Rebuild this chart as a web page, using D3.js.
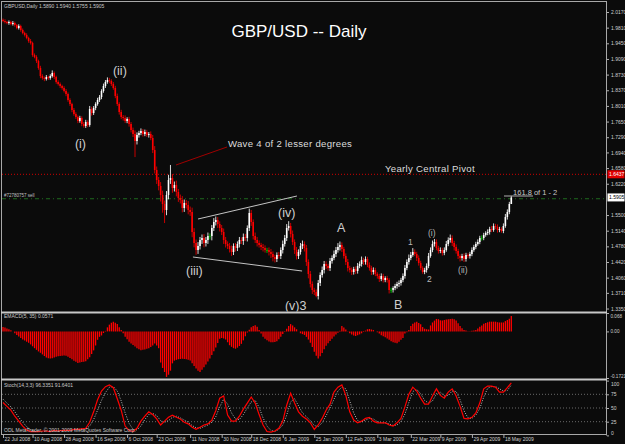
<!DOCTYPE html>
<html><head><meta charset="utf-8">
<script src="https://cdn.jsdelivr.net/npm/d3@7"></script>
<style>body{margin:0;background:#0b0b0b}svg{display:block}</style>
</head><body><svg id="c" width="625" height="444"></svg>
<script>
// ---------------- DATA ----------------
const firstOpen = 1.9990;
const closes = [
1.9963,1.9940,1.9917,1.9940,1.9894,1.9917,1.9871,1.9802,1.9848,1.9756,
1.9687,1.9641,1.9572,1.9503,1.9457,1.9181,1.9135,1.9043,1.8882,1.8698,
1.8652,1.8629,1.8675,1.8652,1.8698,1.8767,1.8675,1.8560,1.8514,1.8468,
1.8422,1.8353,1.8284,1.8146,1.8054,1.7916,1.7824,1.7755,1.7663,1.7732,
1.7594,1.7548,1.7640,1.7571,1.7939,1.7847,1.7962,1.8054,1.8146,1.8215,
1.8353,1.8468,1.8560,1.8606,1.8583,1.8514,1.8422,1.8238,1.8054,1.7870,
1.7755,1.7732,1.7663,1.7709,1.7594,1.7456,1.7364,1.7203,1.7341,1.7387,
1.7433,1.7364,1.7410,1.7341,1.7364,1.7272,1.6996,1.6536,1.6306,1.6168,
1.5961,1.5754,1.5616,1.5961,1.6306,1.6352,1.6122,1.6191,1.6030,1.5892,
1.5846,1.5662,1.5777,1.5731,1.5616,1.5570,1.5110,1.4857,1.4696,1.4788,
1.4926,1.4972,1.4857,1.4926,1.5018,1.5018,1.5202,1.5340,1.5386,1.5294,
1.5202,1.5110,1.4926,1.4834,1.4788,1.4719,1.4650,1.4788,1.4742,1.4834,
1.4926,1.4903,1.4995,1.4972,1.5202,1.5547,1.5340,1.5018,1.4926,1.4857,
1.4811,1.4765,1.4742,1.4696,1.4696,1.4650,1.4604,1.4535,1.4489,1.4581,
1.4558,1.4696,1.4834,1.4972,1.5202,1.5248,1.5064,1.4880,1.4696,1.4558,
1.4650,1.4788,1.4834,1.4742,1.4420,1.4144,1.3914,1.3776,1.3730,1.3638,
1.3937,1.4121,1.4236,1.4374,1.4328,1.4282,1.4443,1.4512,1.4604,1.4696,
1.4765,1.4811,1.4719,1.4558,1.4420,1.4282,1.4236,1.4190,1.4259,1.4213,
1.4328,1.4374,1.4466,1.4420,1.4489,1.4351,1.4282,1.4190,1.4236,1.4144,
1.4098,1.4029,1.4098,1.4006,1.4052,1.4006,1.3776,1.3778,1.3822,1.3868,
1.3914,1.3937,1.4006,1.4098,1.4282,1.4420,1.4512,1.4581,1.4650,1.4604,
1.4512,1.4397,1.4282,1.4190,1.4236,1.4328,1.4558,1.4696,1.4834,1.4880,
1.4742,1.4673,1.4696,1.4627,1.4696,1.4834,1.4926,1.4972,1.4857,1.4765,
1.4673,1.4558,1.4512,1.4558,1.4489,1.4581,1.4558,1.4604,1.4696,1.4765,
1.4834,1.4880,1.4972,1.4972,1.5041,1.5087,1.5110,1.5179,1.5156,1.5248,
1.5225,1.5156,1.5179,1.5133,1.5248,1.5455,1.5570,1.5754,1.5905];
// upper / lower wick lengths in pips
const hiWick = [
30,40,25,35,30,45,30,25,40,30,35,30,40,30,45,30,35,40,30,50,
40,35,45,30,40,60,35,30,40,35,30,40,45,35,40,30,45,40,35,50,
40,45,50,40,70,50,45,40,50,45,40,55,45,60,50,40,45,50,55,40,
50,45,60,40,50,45,55,80,60,50,60,45,55,50,45,60,70,90,80,70,
90,100,80,90,120,300,90,80,100,70,80,90,80,70,90,80,100,90,80,90,
70,80,90,70,80,60,70,90,80,70,60,70,80,70,60,70,80,60,70,60,
70,60,80,70,60,100,70,60,80,70,60,50,70,60,50,60,70,60,50,60,
70,60,80,70,90,110,70,80,60,70,60,70,80,60,70,60,70,60,50,60,
70,60,80,70,60,50,70,60,80,70,90,80,60,50,60,70,50,60,50,60,
70,60,80,50,60,50,60,50,60,50,40,50,60,50,40,50,40,50,40,50,
50,60,50,60,70,60,80,70,90,60,50,60,50,40,50,60,70,60,80,70,
60,50,60,50,60,70,60,80,60,50,60,50,40,50,60,50,40,50,60,50,
50,60,50,60,50,40,60,50,70,60,50,60,50,40,60,70,60,50,35];
const loWick = [
30,35,30,40,30,35,40,30,35,40,30,35,30,40,35,40,30,45,40,50,
40,50,35,45,40,35,50,40,35,45,40,35,50,40,45,50,40,45,50,40,
50,40,45,50,40,60,45,50,40,45,50,40,45,40,50,45,40,50,45,60,
50,60,45,50,60,55,70,370,80,60,50,60,50,45,60,50,70,80,90,100,
150,200,300,120,100,90,110,80,100,90,80,100,90,80,100,90,120,100,110,90,
80,90,100,80,90,80,100,70,80,90,80,70,90,80,70,80,90,70,80,70,
80,70,90,70,80,70,90,80,70,80,60,70,80,60,70,80,90,100,80,70,
60,70,80,60,70,60,80,70,90,80,70,60,70,80,90,100,80,90,70,30,
80,70,60,80,70,60,70,60,50,70,60,80,70,60,70,80,60,70,60,70,
60,50,60,70,60,50,60,70,60,50,60,70,50,60,50,60,80,70,60,50,
60,70,60,50,60,50,60,50,40,50,70,60,50,40,50,60,50,40,50,60,
50,60,50,60,50,40,50,60,70,80,60,70,80,60,70,60,50,60,50,40,
50,40,50,60,50,40,50,60,50,40,50,60,50,40,50,40,60,50,0];
// MACD histogram, thousandths
const macdMilli = [
16,14,11,8,4,0,-7,-13,-19,-24,-30,-34,-38,-42,-48,-55,-62,-68,-74,-79,
-85,-91,-96,-99,-100,-99,-96,-94,-92,-91,-90,-89,-90,-94,-98,-103,-108,-112,-117,-115,
-113,-112,-110,-103,-95,-83,-70,-52,-31,-20,-15,-6,2,15,25,32,36,32,27,15,
5,-7,-20,-29,-38,-45,-50,-56,-62,-66,-70,-68,-67,-64,-62,-58,-52,-45,-52,-62,
-115,-135,-150,-168,-160,-145,-118,-108,-105,-103,-102,-101,-102,-103,-105,-107,-118,-128,-137,-145,
-150,-142,-132,-122,-111,-100,-87,-73,-59,-43,-27,-24,-26,-30,-40,-51,-57,-62,-64,-60,
-54,-46,-33,-18,-4,6,15,20,23,17,5,-8,-20,-27,-33,-37,-40,-40,-39,-36,
-29,-20,-10,-2,10,20,27,22,15,8,0,-7,-10,-13,-20,-30,-42,-58,-75,-90,
-100,-92,-80,-66,-53,-44,-35,-27,-19,-11,-5,2,20,14,7,-1,-7,-11,-15,-17,
-14,-11,-7,-2,3,8,9,7,5,0,-3,-8,-14,-18,-22,-26,-31,-36,-40,-42,
-44,-38,-31,-24,-8,-3,5,20,28,33,36,31,26,16,10,8,7,22,33,40,
46,45,41,40,42,44,45,46,47,45,40,30,20,12,5,3,1,1,2,3,
5,11,17,22,28,31,34,36,36,36,36,34,33,33,33,38,42,47,57];
// Stochastic, sampled every 2 bars
const stochMain = [
60,53,46,35,26,17,10,7,7,7, 8,8,7,9,8,9,9,9,11,11,
12,13,24,43,65,81,89,92,87,67, 46,17,9,7,13,26,35,43,38,30,
19,26,33,37,33,30,24,21,15,11, 15,19,21,28,45,68,72,37,26,26,
35,48,59,70,59,38,19,7,6,8, 13,26,55,77,59,43,35,30,23,11,
19,31,46,57,79,88,92,73,43,28, 23,26,31,33,26,23,23,23,19,17,
23,31,52,75,88,81,68,57,57,72, 85,73,68,79,85,72,53,31,30,33,
41,59,85,90,90,88,79,79,87,96];
const stochSignal = [
66,59,52,43,33,24,16,10,8,7, 7,8,8,8,8,8,9,9,10,11,
11,12,17,29,46,64,78,88,89,81, 63,41,22,11,10,17,29,38,40,36,
27,24,27,33,35,32,28,24,18,14, 13,16,19,24,34,52,66,57,41,30,
29,38,50,61,64,51,32,17,9,7, 11,19,37,61,67,54,41,34,27,18,
16,23,36,50,66,81,88,85,63,41, 27,24,28,31,30,25,23,23,21,18,
19,25,39,60,80,84,76,64,59,63, 76,79,72,73,81,80,65,45,32,31,
37,49,70,86,89,89,85,81,82,92];
// 1.5860 is covered by the current-price tag in the reference
const priceTicks = [2.0170,1.9810,1.9450,1.9090,1.8730,1.8370,1.8010,1.7650,1.7290,1.6940,
  1.6580,1.6220,1.5500,1.5140,1.4780,1.4420,1.4060,1.3710,1.3350];
const macdTicks = [0.068, 0, -0.1721];
const macdTickLabels = ["0.068","0.00","-0.1721"];
const stochTicks = [100,75,50,25,0];
const stochLevels = [75,50,25];
const dateLabels = ["22 Jul 2008","10 Aug 2008","28 Aug 2008","16 Sep 2008","6 Oct 2008","23 Oct 2008",
  "11 Nov 2008","30 Nov 2008","18 Dec 2008","6 Jan 2009","25 Jan 2009","12 Feb 2009","3 Mar 2009",
  "22 Mar 2009","9 Apr 2009","29 Apr 2009","18 May 2009"];
const dateBars = [0,15,31,47,63,78,95,111,126,142,158,174,190,207,222,238,254];
const pivotPrice = 1.6437;
const targetPrice = 1.5875;
const lastPrice = 1.5905;
// annotations: [text, bar index, price, size class]
const waveLabels = [
  ["(ii)",55.8,1.8721,"big"],["(i)",36.5,1.7042,"big"],["(iii)",92.9,1.4121,"big"],
  ["(iv)",139.6,1.5455,"big"],["A",169.5,1.5110,"big"],["(v)3",143.1,1.3316,"big"],
  ["B",198.5,1.3339,"big"],["1",205.6,1.4811,"small"],["2",215.2,1.3960,"small"],
  ["(i)",215.7,1.5018,"small"],["(ii)",231,1.4167,"small"],
  ["Wave 4 of 2 lesser degrees",114.2,1.7065,"note"],["Yearly Central Pivot",193.9,1.6501,"note"],
  ["161.8 of 1 - 2",258.9,1.5972,"tiny"]];
// trend lines: [bar1, price1, bar2, price2, colour]
const trendLines = [
  [99,1.5409,149.2,1.5938,"#c4c4c4"],
  [96.4,1.4535,151.8,1.4213,"#c4c4c4"],
  [87.8,1.6651,113.7,1.7065,"#a00000"],
  [254.3,1.5938,269,1.5938,"#b0b0b0"]];

// ---------------- DRAW ----------------
const FONT = "'Liberation Sans', Arial, sans-serif";
const svg = d3.select('#c');
svg.append('rect').attr('width',625).attr('height',444).attr('fill','#0b0b0b');

const x = d3.scaleLinear().domain([0, closes.length-1]).range([3, 511.3]);
const yP = d3.scaleLinear().domain([1.327, 2.040]).range([312, 2]);
const yM = d3.scaleLinear().domain([-0.1721, 0.068]).range([378, 313]);
const yS = d3.scaleLinear().domain([0,100]).range([435.4, 380.6]);

const defs = svg.append('defs');
defs.append('clipPath').attr('id','mainClip').append('rect').attr('x',2).attr('y',2).attr('width',604).attr('height',309.5);

// frame
const frame = svg.append('g').attr('stroke','#a8a8a8').attr('fill','none');
frame.append('line').attr('x1',1).attr('x2',607).attr('y1',1.5).attr('y2',1.5);
frame.append('line').attr('x1',1.5).attr('x2',1.5).attr('y1',1).attr('y2',435);
frame.append('line').attr('x1',606.5).attr('x2',606.5).attr('y1',1).attr('y2',435.5);
frame.append('line').attr('x1',1).attr('x2',607).attr('y1',434.5).attr('y2',434.5);
frame.append('line').attr('x1',1).attr('x2',607).attr('y1',312.5).attr('y2',312.5).attr('stroke','#c8c8c8').attr('stroke-width',2);
frame.append('line').attr('x1',1).attr('x2',607).attr('y1',379.5).attr('y2',379.5).attr('stroke','#c8c8c8').attr('stroke-width',2);

const main = svg.append('g').attr('clip-path','url(#mainClip)');

// horizontal levels
main.append('line').attr('x1',2).attr('x2',606).attr('y1',yP(pivotPrice)).attr('y2',yP(pivotPrice))
  .attr('stroke','#d00000').attr('stroke-dasharray','1,2');
main.append('line').attr('x1',2).attr('x2',606).attr('y1',yP(targetPrice)).attr('y2',yP(targetPrice))
  .attr('stroke','#1f6a1f').attr('stroke-dasharray','4,3,1,3');

// candles
const bars = closes.map((c,i)=>{
  const o = i ? closes[i-1] : firstOpen;
  return {i,o,c,h:Math.max(o,c)+hiWick[i]/1e4,l:Math.min(o,c)-loWick[i]/1e4};
});
function col(b, wick){
  if (Math.abs(b.c-b.o) < 0.0005) return '#00b000';
  if (b.c >= b.o) return wick ? '#d8d8d8' : '#ffffff';
  return wick ? '#c80000' : '#ff0000';
}
main.append('g').selectAll('line').data(bars).join('line')
  .attr('x1',d=>x(d.i)).attr('x2',d=>x(d.i)).attr('y1',d=>yP(d.h)).attr('y2',d=>yP(d.l))
  .attr('stroke',d=>col(d,true)).attr('stroke-width',1);
main.append('g').selectAll('rect').data(bars).join('rect')
  .attr('x',d=>x(d.i)-0.8).attr('width',1.6)
  .attr('y',d=>yP(Math.max(d.o,d.c)))
  .attr('height',d=>Math.max(1, yP(Math.min(d.o,d.c))-yP(Math.max(d.o,d.c))))
  .attr('fill',d=>col(d,false));

// trend lines
main.append('g').selectAll('line').data(trendLines).join('line')
  .attr('x1',d=>x(d[0])).attr('y1',d=>yP(d[1])).attr('x2',d=>x(d[2])).attr('y2',d=>yP(d[3]))
  .attr('stroke',d=>d[4]).attr('stroke-width',1);

// wave labels
const sizes = {big:[12.5,'#cfcfcf'], small:[8.5,'#b8b8b8'], note:[9.6,'#dcdcdc'], tiny:[7.5,'#c8c8c8']};
main.append('g').selectAll('text').data(waveLabels).join('text')
  .attr('x',d=>x(d[1])).attr('y',d=>yP(d[2]))
  .attr('font-family',FONT).attr('font-size',d=>sizes[d[3]][0]).attr('fill',d=>sizes[d[3]][1])
  .attr('letter-spacing',d=>d[3]==='note'?0.3:0)
  .text(d=>d[0]);

// title
svg.append('text').attr('x',299).attr('y',36.5).attr('text-anchor','middle')
  .attr('font-family',FONT).attr('font-size',17).attr('fill','#ffffff').text('GBP/USD -- Daily');
svg.append('text').attr('x',4).attr('y',7.5).attr('font-family',FONT).attr('font-size',5).attr('fill','#c8c8c8')
  .text('GBPUSD,Daily  1.5890 1.5940 1.5755 1.5905');
svg.append('text').attr('x',4).attr('y',yP(targetPrice)-1.5).attr('font-family',FONT).attr('font-size',4.5).attr('fill','#c0c0c0')
  .text('#72780757 sell');

// price axis
const axP = d3.axisRight(yP).tickValues(priceTicks).tickSize(2).tickPadding(2).tickFormat(d3.format('.4f'));
const gP = svg.append('g').attr('transform','translate(607,0)').call(axP);
function styleAxis(g, fs){
  g.select('.domain').remove();
  g.selectAll('line').attr('stroke','#b0b0b0');
  g.selectAll('text').attr('fill','#d0d0d0').attr('font-size',fs||5).attr('font-family',FONT);
}
styleAxis(gP);

// price tags
function tag(p, bg, fg){
  const g = svg.append('g');
  g.append('rect').attr('x',607.5).attr('y',yP(p)-4).attr('width',17).attr('height',8).attr('fill',bg);
  g.append('text').attr('x',609).attr('y',yP(p)+1.8).attr('font-family',FONT).attr('font-size',5).attr('fill',fg)
    .text(d3.format('.4f')(p));
}
tag(pivotPrice,'#e00000','#ffffff');
tag(lastPrice,'#ffffff','#000000');

// MACD histogram
svg.append('g').selectAll('line').data(macdMilli).join('line')
  .attr('x1',(d,i)=>x(i)).attr('x2',(d,i)=>x(i)).attr('y1',yM(0)).attr('y2',d=>yM(d/1000))
  .attr('stroke','#ff0000').attr('stroke-width',1.3);
const axM = d3.axisRight(yM).tickValues(macdTicks).tickSize(2).tickPadding(1.5).tickFormat((d,i)=>macdTickLabels[i]);
const gM = svg.append('g').attr('transform','translate(607,0)').call(axM);
styleAxis(gM, 4.6);
gM.selectAll('.tick text').attr('dy',(d,i)=> i===0 ? '0.9em' : i===2 ? '-0.1em' : '0.32em');
svg.append('text').attr('x',4).attr('y',318).attr('font-family',FONT).attr('font-size',5).attr('fill','#c8c8c8')
  .text('EMACD(5, 35) 0.0571');

// Stochastic
svg.append('g').selectAll('line').data(stochLevels).join('line')
  .attr('x1',2).attr('x2',606).attr('y1',d=>yS(d)).attr('y2',d=>yS(d))
  .attr('stroke','#6a6a6a').attr('stroke-dasharray','1,2');
const sLine = d3.line().x((d,k)=>x(2*k)).y(d=>yS(d)).curve(d3.curveLinear);
svg.append('path').attr('d',sLine(stochSignal)).attr('fill','none').attr('stroke','#bdbdbd')
  .attr('stroke-width',1).attr('stroke-dasharray','1,1.5');
svg.append('path').attr('d',sLine(stochMain)).attr('fill','none').attr('stroke','#ff0000').attr('stroke-width',1.2);
const axS = d3.axisRight(yS).tickValues(stochTicks).tickSize(2).tickPadding(2).tickFormat(d3.format('d'));
const gS = svg.append('g').attr('transform','translate(607,0)').call(axS);
styleAxis(gS);
gS.selectAll('.tick text').attr('dy',(d,i)=> i===0 ? '0.9em' : i===4 ? '-0.1em' : '0.32em');
svg.append('text').attr('x',4).attr('y',387).attr('font-family',FONT).attr('font-size',5).attr('fill','#c8c8c8')
  .text('Stoch(14,3,3) 96.3351 91.6401');
svg.append('text').attr('x',4).attr('y',432).attr('font-family',FONT).attr('font-size',5).attr('fill','#c8c8c8')
  .text('ODL MetaTrader, \u00a9 2001-2009 MetaQuotes Software Corp.');

// date axis
const axD = d3.axisBottom(x).tickValues(dateBars).tickSize(3).tickPadding(1).tickFormat((d,i)=>dateLabels[i]);
const gD = svg.append('g').attr('transform','translate(0,435)').call(axD);
styleAxis(gD);
gD.selectAll('.tick text').attr('text-anchor','start').attr('x',1).attr('dy','0.45em');
</script></body></html>
